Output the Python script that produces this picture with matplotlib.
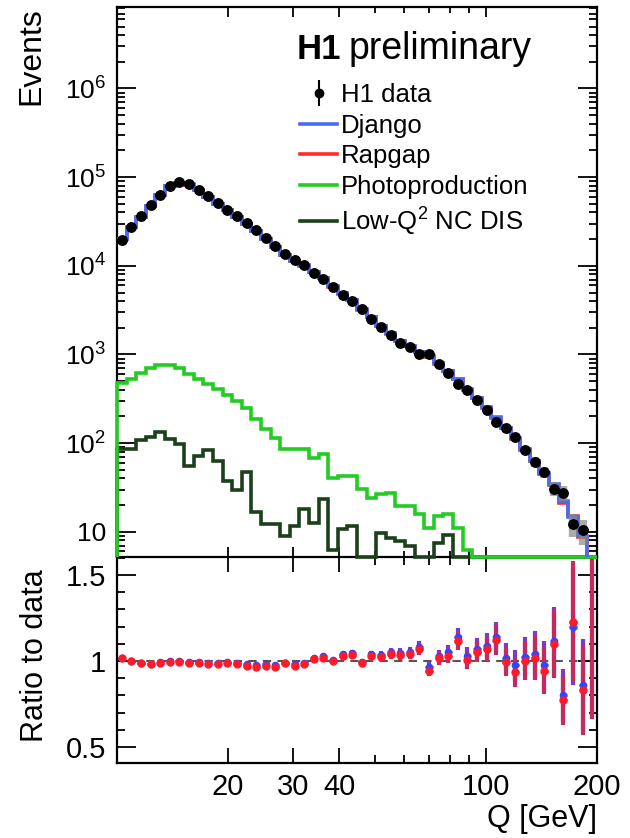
import numpy as np
import matplotlib
matplotlib.use("Agg")
import matplotlib.pyplot as plt
from matplotlib.ticker import FixedLocator, FixedFormatter, NullFormatter, LogLocator
from matplotlib.lines import Line2D

plt.rcParams['font.family'] = ['Liberation Sans', 'DejaVu Sans']
plt.rcParams['mathtext.fontset'] = 'custom'
plt.rcParams['mathtext.rm'] = 'Liberation Sans'
plt.rcParams['mathtext.it'] = 'Liberation Sans:italic'
plt.rcParams['mathtext.bf'] = 'Liberation Sans:bold'

# ---------------- data ----------------
q_min, q_max, n_bins = 10.0, 200.0, 50

h1_data = [19600, 27300, 36300, 48300, 63100, 79800, 87100, 83400, 71900, 60600,
           50900, 42800, 36000, 30300, 25400, 20500, 16800, 13500, 11700, 10200,
           8400, 7060, 5840, 4700, 3960, 3240, 2540, 2050, 1650, 1360,
           1200, 1000, 1000, 775, 625, 470, 398, 304, 234, 173,
           147, 118, 83.7, 61.2, 47.2, 30.7, 27.6, 12.3, 10.4, 2.5]

photoproduction = [482, 535, 614, 711, 755, 755, 711, 598, 525, 470,
                   412, 347, 299, 252, 186, 143, 115, 85, 85, 85,
                   68.6, 74.8, 40.8, 42.6, 42.6, 30.1, 24.3, 26.4, 27.6, 19.5,
                   19.5, 15.7, 11.1, 15.0, 15.7, 11.1, 6.3, 0, 0, 0,
                   0, 0, 0, 0, 0, 0, 0, 0, 0, 0]

low_q2_dis = [85, 87, 108, 118, 134, 110, 97, 55, 71, 83,
              63, 37, 30, 47, 16.8, 12.4, 12.4, 9.0, 11.7, 18.1,
              12.5, 23.4, 6.2, 10.9, 11.7, 0, 0, 9.6, 8.6, 7.9,
              6.9, 0, 0, 7.5, 9.1, 0, 0, 0, 0, 0,
              0, 0, 0, 0, 0, 0, 0, 0, 0, 0]

ratio_rapgap = [1.02, 1.0, 0.987, 0.98, 0.99, 0.994, 0.992, 0.987, 0.99, 0.98,
                0.983, 0.987, 0.98, 0.97, 0.967, 0.97, 0.967, 0.987, 0.97, 0.983,
                1.01, 1.02, 0.998, 1.03, 1.035, 0.987, 1.03, 1.025, 1.04, 1.035,
                1.04, 1.07, 0.944, 1.016, 1.03, 1.118, 1.006, 1.054, 1.068, 1.122,
                0.996, 0.938, 1.0, 1.02, 0.944, 1.10, 0.773, 1.229, 0.83, 1.80]

ratio_django = [1.015, 1.0, 0.99, 0.985, 0.995, 1.0, 0.998, 0.995, 0.995, 0.99,
                0.99, 0.995, 0.99, 0.98, 0.975, 0.98, 0.975, 0.99, 0.98, 0.99,
                1.02, 1.03, 1.005, 1.04, 1.045, 0.995, 1.04, 1.035, 1.05, 1.045,
                1.05, 1.08, 0.963, 1.03, 1.05, 1.14, 1.03, 1.07, 1.09, 1.14,
                1.02, 0.975, 1.025, 1.04, 0.975, 1.115, 0.80, 1.20, 0.86, 1.85]

x_tick_labels = ['20', '30', '40', '100', '200']
x_tick_values = [20, 30, 40, 100, 200]
x_minor_values = [50, 60, 70, 80, 90]

# ---------------- derived ----------------
edges = np.logspace(np.log10(q_min), np.log10(q_max), n_bins + 1)
centers = np.sqrt(edges[:-1] * edges[1:])
data = np.array(h1_data, float)
derr = np.sqrt(data)
r_rap = np.array(ratio_rapgap)
r_dj = np.array(ratio_django)
mc_rap = data * r_rap
mc_dj = data * r_dj
r_err_rap = r_rap / np.sqrt(data)
r_err_dj = r_dj / np.sqrt(data)
xerr = np.vstack([centers - edges[:-1], edges[1:] - centers]) * 0.75

ylo, yhi = 5.2, 8.3e6

BLUE = '#4a6cf0'
RED = '#ff2a2a'
GREEN = '#22cc22'
DGREEN = '#1c3f1c'
CRIMSON = '#c42a5c'

fig = plt.figure(figsize=(6.30, 8.38), dpi=100)
W, H = 630, 838
L, R = 117, 597
ax2 = fig.add_axes([L / W, 1 - 763 / H, (R - L) / W, 206 / H])
ax = fig.add_axes([L / W, 1 - 557 / H, (R - L) / W, 550 / H], sharex=ax2)

# ---------------- top panel ----------------
ax.stairs(np.maximum(np.array(low_q2_dis, float), ylo), edges, baseline=ylo,
          color=DGREEN, lw=2.6, zorder=2.8, clip_on=False)
ax.stairs(np.maximum(np.array(photoproduction, float), ylo), edges, baseline=ylo,
          color=GREEN, lw=2.6, zorder=3, clip_on=False)
ax.stairs(mc_rap, edges, baseline=None, color=RED, lw=2.6, zorder=4)
ax.stairs(mc_dj, edges, baseline=None, color=BLUE, lw=2.6, zorder=5)
ax.errorbar(centers, data, yerr=derr, fmt='none', ecolor='#888888', elinewidth=6,
            alpha=0.7, zorder=6)
ax.plot(centers, data, 'o', color='black', ms=6.8, zorder=7)

ax.set_xscale('log')
ax.set_yscale('log')
ax.set_xlim(q_min, q_max)
ax.set_ylim(ylo, yhi)

ax.yaxis.set_major_locator(FixedLocator([1e1, 1e2, 1e3, 1e4, 1e5, 1e6]))
ax.yaxis.set_major_formatter(FixedFormatter(['10', r'$\mathdefault{10^{2}}$', r'$\mathdefault{10^{3}}$',
                                             r'$\mathdefault{10^{4}}$', r'$\mathdefault{10^{5}}$',
                                             r'$\mathdefault{10^{6}}$']))
ax.yaxis.set_minor_locator(LogLocator(base=10, subs=np.arange(2, 10), numticks=20))
ax.yaxis.set_minor_formatter(NullFormatter())

for a in (ax, ax2):
    a.xaxis.set_major_locator(FixedLocator(x_tick_values))
    a.xaxis.set_minor_locator(FixedLocator(x_minor_values))
    a.xaxis.set_minor_formatter(NullFormatter())
    a.tick_params(which='both', direction='in', top=True, right=True, width=1.3, colors='black')
    a.tick_params(which='major', length=11)
    a.tick_params(which='minor', length=6)
    for s in a.spines.values():
        s.set_linewidth(1.6)

ax.tick_params(axis='x', which='major', length=7)
ax.tick_params(axis='x', which='minor', length=4)
ax.tick_params(axis='y', which='major', length=14, labelsize=19, pad=8)
ax.tick_params(axis='x', labelbottom=False)

ax.set_ylabel('Events', fontsize=23, loc='top')
ax.yaxis.set_label_coords(-0.148, 1.0)

# title text
ax.text(0.375, 0.905, 'H1', transform=ax.transAxes, fontsize=25, fontweight='bold',
        va='baseline', ha='left')
ax.text(0.482, 0.905, 'preliminary', transform=ax.transAxes, fontsize=27,
        va='baseline', ha='left')

# legend
h_data = ax.errorbar([], [], yerr=[], fmt='o', color='black', ms=6, elinewidth=1.5)
handles = [h_data,
           Line2D([], [], color=BLUE, lw=2.6),
           Line2D([], [], color=RED, lw=2.6),
           Line2D([], [], color=GREEN, lw=2.6),
           Line2D([], [], color=DGREEN, lw=2.6)]
labels = ['H1 data', 'Django', 'Rapgap', 'Photoproduction', r'Low-Q$^{2}$ NC DIS']
ax.legend(handles, labels, loc='upper left', bbox_to_anchor=(0.381, 0.862), frameon=False,
          fontsize=18.5, handlelength=1.45, handletextpad=0.15, labelspacing=0.26,
          borderpad=0, borderaxespad=0)

# ---------------- ratio panel ----------------
ax2.spines['top'].set_visible(False)
ax2.axhline(1.0, color='#555555', lw=1.5, ls=(0, (4, 3)), zorder=1)
ax2.errorbar(centers, r_dj, yerr=r_err_dj, fmt='none', ecolor='#7a3cc8', elinewidth=3, zorder=2)
ax2.errorbar(centers, r_rap, yerr=r_err_rap, fmt='none', ecolor=CRIMSON, elinewidth=3, zorder=3)
ax2.errorbar(centers, r_dj, xerr=xerr, fmt='o', color='#3344ff', ms=4.5,
             elinewidth=2, zorder=4)
ax2.errorbar(centers, r_rap, xerr=xerr, fmt='o', color='#ff1a2a', ms=5,
             elinewidth=2, zorder=5)
ax2.set_ylim(0.407, 1.605)
ax2.yaxis.set_major_locator(FixedLocator([0.5, 1.0, 1.5]))
ax2.yaxis.set_major_formatter(FixedFormatter(['0.5', '1', '1.5']))
ax2.yaxis.set_minor_locator(FixedLocator(np.arange(0.5, 1.61, 0.1)))
ax2.tick_params(axis='y', which='major', length=14, labelsize=21, pad=8)
ax2.tick_params(axis='x', which='major', labelsize=21, pad=7)
ax2.xaxis.set_major_formatter(FixedFormatter(x_tick_labels))
ax2.set_xlim(q_min, q_max)

ax2.set_ylabel('Ratio to data', fontsize=22)
ax2.yaxis.set_label_coords(-0.14, 0.52)
ax2.set_xlabel('Q [GeV]', fontsize=22, loc='right')
ax2.xaxis.set_label_coords(1.0, -0.2)

fig.savefig('out.png', dpi=100)
